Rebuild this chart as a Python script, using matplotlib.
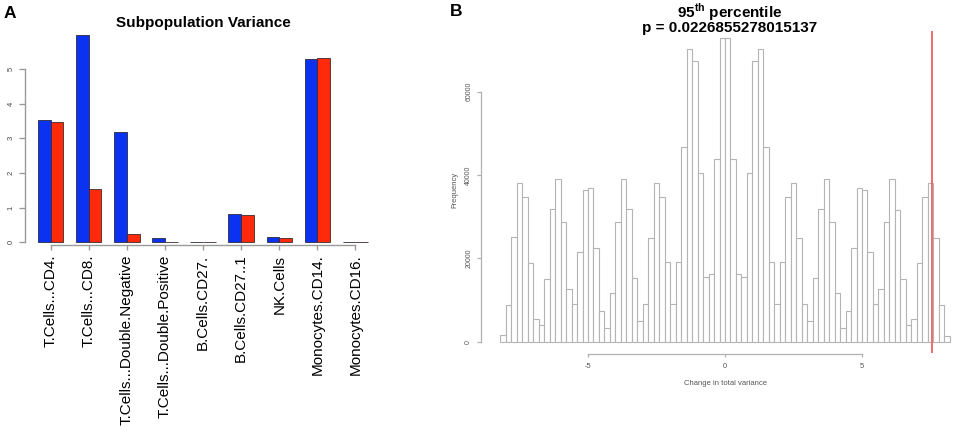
import numpy as np
import matplotlib
matplotlib.use("Agg")
import matplotlib.pyplot as plt

plt.rcParams['font.family'] = ['Liberation Sans', 'DejaVu Sans']
plt.rcParams['mathtext.fontset'] = 'custom'
plt.rcParams['mathtext.rm'] = 'Liberation Sans'
plt.rcParams['mathtext.bf'] = 'Liberation Sans:bold'

# ---------------- data ----------------
categories = ["T.Cells...CD4.", "T.Cells...CD8.", "T.Cells...Double.Negative",
              "T.Cells...Double.Positive", "B.Cells.CD27.", "B.Cells.CD27..1",
              "NK.Cells", "Monocytes.CD14.", "Monocytes.CD16."]
variance_blue = [3.52, 5.99, 3.17, 0.125, 0.02, 0.81, 0.16, 5.29, 0.01]
variance_red = [3.48, 1.55, 0.25, 0.02, 0.02, 0.79, 0.135, 5.32, 0.01]
a_yticks = [0, 1, 2, 3, 4, 5]

hist_counts = [1520, 8880, 25030, 37990, 34720, 18890, 5450, 4080, 15050, 31750,
               39040, 28800, 12650, 9050, 21530, 36310, 36880, 22560, 7270, 3190,
               11760, 28630, 39040, 31850, 15360, 5040, 8950, 24890, 37990, 34800,
               19130, 9050, 19030, 46630, 70310, 67360, 40390, 15600, 16150, 43850,
               72790,
               72790, 43850, 16150, 15600, 40390, 67360, 70310, 46630, 19030, 9040,
               19130, 34800, 37990, 24880, 8960, 5040, 15360, 31840, 39040, 28640,
               11760, 3200, 7280, 22560, 36880, 36320, 21520, 9040, 12640, 28800,
               39040, 31680, 15040, 4080, 5440, 18890, 34720, 37990, 24960, 8880,
               1360]
hist_low, hist_high = -8.2, 8.2
observed_change = 7.55
b_xticks = [-5, 0, 5]
b_yticks = [0, 20000, 40000, 60000]
p_value_text = "p = 0.0226855278015137"

# ---------------- figure ----------------
W, H = 957, 436
fig = plt.figure(figsize=(W / 100, H / 100), dpi=100)
fig.patch.set_facecolor('white')


def rect(x0, y0, x1, y1):
    return [x0 / W, 1 - y1 / H, (x1 - x0) / W, (y1 - y0) / H]


PT = 0.72  # points per pixel at 100 dpi
GRAY = '#9a9a9a'

# ---------------- Panel A ----------------
axA = fig.add_axes(rect(25, 20, 390, 244.7))
# data mapping: x=1 -> px 38, 12.7 px/unit ; y=0 -> px 242.3, 34.66 px/unit
axA.set_xlim(1 + (25 - 38) / 12.7, 1 + (390 - 38) / 12.7)
axA.set_ylim(-(244.7 - 242.3) / 34.66, (242.3 - 20) / 34.66)
n = len(categories)
blue_x = [1 + 3 * i for i in range(n)]
red_x = [2 + 3 * i for i in range(n)]
centers = [2 + 3 * i for i in range(n)]
axA.bar(blue_x, variance_blue, width=1, align='edge', color='#0a32f0',
        edgecolor='#2a2a40', linewidth=0.6)
axA.bar(red_x, variance_red, width=1, align='edge', color='#ff2a0a',
        edgecolor='#402a2a', linewidth=0.6)
for s in ['top', 'right']:
    axA.spines[s].set_visible(False)
axA.spines['left'].set_bounds(0, 5)
axA.spines['bottom'].set_bounds(centers[0], centers[-1])
for s in ['left', 'bottom']:
    axA.spines[s].set_color(GRAY)
    axA.spines[s].set_linewidth(1.0)
axA.set_yticks(a_yticks)
axA.set_yticklabels([str(v) for v in a_yticks], rotation=90, va='center',
                    fontsize=5.5, color='#444444')
axA.tick_params(axis='y', length=6 * PT, width=1.0, color=GRAY, pad=4.5 * PT)
axA.set_xticks(centers)
axA.set_xticklabels(categories, rotation=90, fontsize=11, va='top', ha='center')
axA.tick_params(axis='x', length=5 * PT, width=1.0, color=GRAY, pad=5 * PT)

fig.text(203 / W, 1 - 23.5 / H, "Subpopulation Variance", fontsize=11,
         fontweight='bold', ha='center', va='center')
fig.text(9.5 / W, 1 - 14 / H, "A", fontsize=12.5, fontweight='bold',
         ha='center', va='center')

# ---------------- Panel B ----------------
x0px, xscale = 725.0, 27.4
y0px, yscale = 341.7, 0.004167
axB = fig.add_axes(rect(480.7, 28, 956, 354.3))
axB.set_xlim((480.7 - x0px) / xscale, (956 - x0px) / xscale)
axB.set_ylim(-(354.3 - y0px) / yscale, (y0px - 28) / yscale)
edges = np.linspace(hist_low, hist_high, len(hist_counts) + 1)
axB.bar(edges[:-1], hist_counts, width=np.diff(edges), align='edge',
        color='white', edgecolor='#b4b4b4', linewidth=0.8)
axB.vlines(observed_change, -(353 - y0px) / yscale, (y0px - 31) / yscale,
           color='#f26a6a', linewidth=1.4)
for s in ['top', 'right']:
    axB.spines[s].set_visible(False)
axB.spines['left'].set_bounds(0, 60000)
axB.spines['bottom'].set_bounds(-5, 5)
for s in ['left', 'bottom']:
    axB.spines[s].set_color('#b0b0b0')
    axB.spines[s].set_linewidth(0.9)
axB.set_yticks(b_yticks)
axB.set_yticklabels([str(v) for v in b_yticks], rotation=90, va='center',
                    fontsize=5, color='#555555')
axB.tick_params(axis='y', length=4 * PT, width=0.9, color='#b0b0b0', pad=4.5 * PT)
axB.set_xticks(b_xticks)
axB.set_xticklabels([str(v) for v in b_xticks], fontsize=5.5, color='#555555')
axB.tick_params(axis='x', length=3 * PT, width=0.9, color='#b0b0b0', pad=6 * PT)

fig.text(725 / W, 1 - 383.3 / H, "Change in total variance", fontsize=5.5,
         color='#555555', ha='center', va='center')
fig.text(455 / W, 1 - 190 / H, "Frequency", fontsize=5.5, color='#555555',
         rotation=90, ha='center', va='center')

fig.text(729.5 / W, 1 - 12 / H, r"95$^{\mathbf{th}}$ percentile", fontsize=11,
         fontweight='bold', ha='center', va='center')
fig.text(729.5 / W, 1 - 28.3 / H, p_value_text, fontsize=11,
         fontweight='bold', ha='center', va='center')
fig.text(456 / W, 1 - 11 / H, "B", fontsize=12.5, fontweight='bold',
         ha='center', va='center')

fig.savefig("out.png", dpi=100, facecolor='white')
